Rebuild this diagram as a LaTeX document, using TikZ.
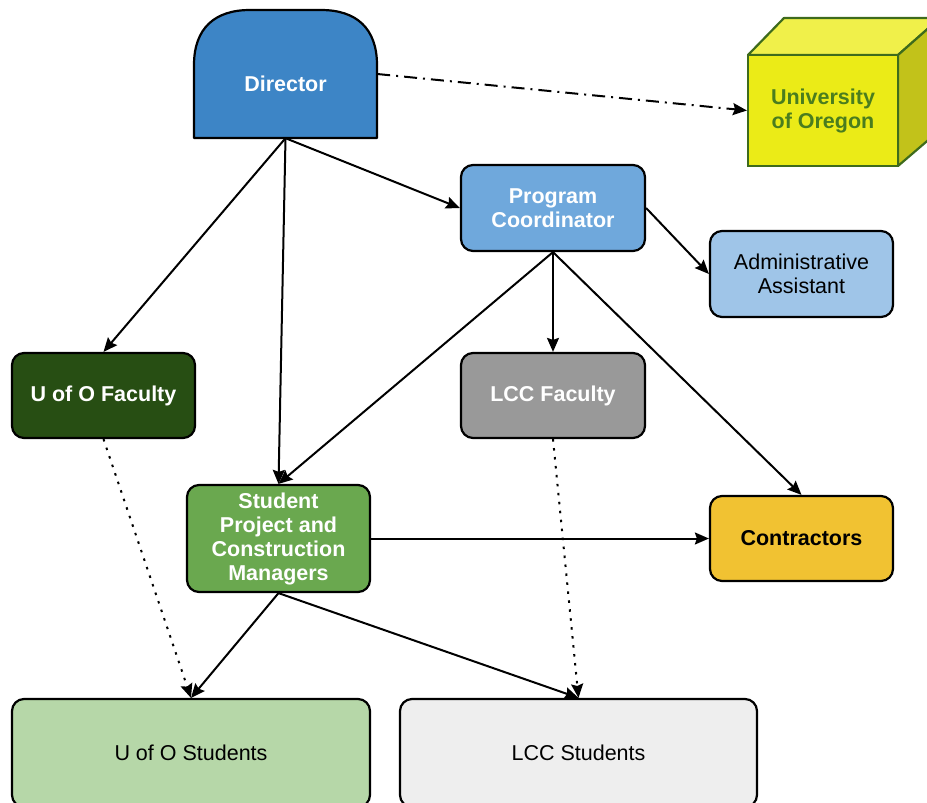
\documentclass[tikz,border=0pt]{standalone}
\usepackage{fontspec}
\setmainfont{Liberation Sans}
\usetikzlibrary{arrows.meta}
\definecolor{dirblue}{HTML}{3D85C6}
\definecolor{pcblue}{HTML}{6FA8DC}
\definecolor{aablue}{HTML}{9FC5E8}
\definecolor{uofgreen}{HTML}{274E13}
\definecolor{lccgray}{HTML}{999999}
\definecolor{spgreen}{HTML}{6AA84F}
\definecolor{conyellow}{HTML}{F1C232}
\definecolor{uosgreen}{HTML}{B6D7A8}
\definecolor{lccsgray}{HTML}{EEEEEE}
\definecolor{cubefront}{HTML}{EBEB17}
\definecolor{cubetop}{HTML}{F0F04A}
\definecolor{cubeside}{HTML}{C2C21A}
\definecolor{cubeedge}{HTML}{3E6B1C}
\definecolor{cubetext}{HTML}{4A7D1E}
\tikzset{
  box/.style={draw=black, line width=2.2pt, rounded corners=12pt, align=center,
    inner sep=2pt, font=\fontsize{21.5}{24}\selectfont},
  whitebold/.style={text=white, font=\fontsize{21.5}{24}\selectfont\bfseries},
  link/.style={line width=2pt, -{Stealth[length=14pt,width=12pt,inset=2pt]}},
  dotlink/.style={link, dash pattern=on 2.5pt off 6.5pt},
  dashdotlink/.style={link, dash pattern=on 13pt off 6pt on 2pt off 6pt},
}
\begin{document}
\begin{tikzpicture}[x=1pt,y=-1pt]
\useasboundingbox (0,0) rectangle (927,803);
\clip (0,0) rectangle (927,803);

% Director: rectangle with rounded top
\draw[fill=dirblue, line width=2.2pt, line join=round]
  (194,138) -- (194,65) .. controls (194,28) and (215,10) .. (250,10)
  -- (321,10) .. controls (356,10) and (377,28) .. (377,65) -- (377,138) -- cycle;
\node[minimum width=183pt, minimum height=128pt, inner sep=0pt] (dir) at (285.5,74) {};
\node[whitebold] (dirtext) at (285.5,84) {Director};

% University of Oregon cube
\draw[fill=cubetop, draw=cubeedge, line width=2.2pt, line join=round]
  (748,55) -- (784,18) -- (940,18) -- (898,55) -- cycle;
\draw[fill=cubeside, draw=cubeedge, line width=2.2pt, line join=round]
  (898,55) -- (940,18) -- (940,130) -- (898,166) -- cycle;
\node[draw=cubeedge, fill=cubefront, line width=2.2pt, minimum width=150pt, minimum height=111pt,
  inner sep=0pt, align=center, text=cubetext, font=\fontsize{21.5}{24}\selectfont\bfseries]
  (uo) at (823,110.5) {University\\of Oregon};

% Boxes
\node[box, fill=pcblue, whitebold, minimum width=184pt, minimum height=86pt] (pc) at (553,208) {Program\\Coordinator};
\node[box, fill=aablue, minimum width=183pt, minimum height=86pt] (aa) at (801.5,274) {Administrative\\Assistant};
\node[box, fill=uofgreen, whitebold, minimum width=183pt, minimum height=85pt] (uof) at (103.5,395.5) {U of O Faculty};
\node[box, fill=lccgray, whitebold, minimum width=184pt, minimum height=85pt] (lccf) at (553,395.5) {LCC Faculty};
\node[box, fill=spgreen, whitebold, minimum width=183pt, minimum height=107pt] (sp) at (278.5,538.5) {Student\\Project and\\Construction\\Managers};
\node[box, fill=conyellow, font=\fontsize{21.5}{24}\selectfont\bfseries, minimum width=183pt, minimum height=85pt] (con) at (801.5,538.5) {Contractors};
\node[box, fill=uosgreen, minimum width=358pt, minimum height=108pt] (uos) at (191,753) {U of O Students};
\node[box, fill=lccsgray, minimum width=357pt, minimum height=108pt] (lccs) at (578.5,753) {LCC Students};

% Connectors
\draw[dashdotlink] (dir.east) -- (uo.west);
\draw[link] (dir.south) -- (uof.north);
\draw[link] (dir.south) -- (sp.north);
\draw[link] (dir.south) -- (pc.west);
\draw[link] (pc.east) -- (aa.west);
\draw[link] (pc.south) -- (lccf.north);
\draw[link] (pc.south) -- (sp.north);
\draw[link] (pc.south) -- (con.north);
\draw[link] (sp.east) -- (con.west);
\draw[link] (sp.south) -- (uos.north);
\draw[link] (sp.south) -- (lccs.north);
\draw[dotlink] (uof.south) -- (uos.north);
\draw[dotlink] (lccf.south) -- (lccs.north);
\end{tikzpicture}
\end{document}
